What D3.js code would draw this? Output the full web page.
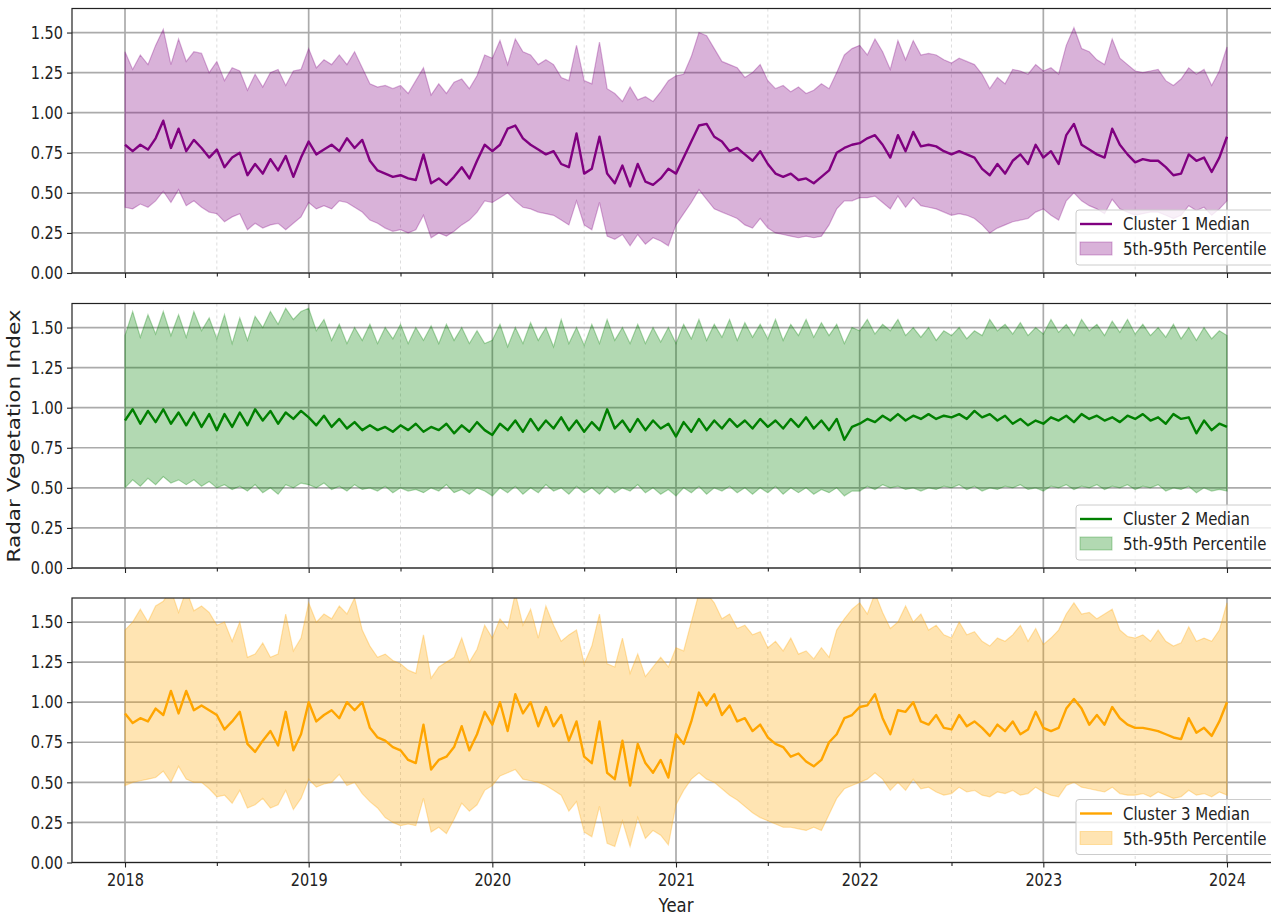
<!DOCTYPE html>
<html><head><meta charset="utf-8">
<script src="https://cdn.jsdelivr.net/npm/d3@7"></script>
<style>
body{margin:0;background:#fff;}
svg{display:block;font-family:"DejaVu Sans",sans-serif;}
.st{transform-box:fill-box;transform-origin:center;transform:scaleY(1.2);}
.stx{transform-box:fill-box;transform-origin:center;transform:scaleX(1.2);}
</style>
</head><body>
<svg id="chart" width="1271" height="916"></svg>
<script>
// ---- sampling ----
const startYear = 2018;
const samplesPerYear = 24;

// ---- ticks ----
const yearTicks = [2018, 2019, 2020, 2021, 2022, 2023, 2024];
const halfYearTicks = [2018.5, 2019.5, 2020.5, 2021.5, 2022.5, 2023.5];
const yTicks = [0, 0.25, 0.5, 0.75, 1.0, 1.25, 1.5];

// ---- labels ----
const clusterLabels = ["Cluster 1 Median", "Cluster 2 Median", "Cluster 3 Median"];
const bandLabel = "5th-95th Percentile";
const xLabel = "Year";
const yLabel = "Radar Vegetation Index";

// ---- Cluster 1 ----
const c1Median = [
0.80,0.76,0.80,0.77,0.84,0.95,0.78,0.90,0.76,0.83,0.78,0.72,0.77,0.66,0.72,0.75,0.61,0.68,0.62,0.71,0.64,0.73,0.60,0.72,
0.82,0.74,0.77,0.80,0.76,0.84,0.78,0.83,0.70,0.64,0.62,0.60,0.61,0.59,0.58,0.74,0.56,0.59,0.55,0.60,0.66,0.59,0.70,0.80,
0.76,0.80,0.90,0.92,0.84,0.80,0.77,0.74,0.76,0.68,0.66,0.87,0.62,0.65,0.85,0.62,0.56,0.67,0.54,0.68,0.57,0.55,0.59,0.65,
0.62,0.72,0.82,0.92,0.93,0.85,0.82,0.76,0.78,0.74,0.70,0.76,0.68,0.62,0.60,0.62,0.58,0.59,0.56,0.60,0.64,0.75,0.78,0.80,
0.81,0.84,0.86,0.80,0.72,0.86,0.76,0.88,0.79,0.80,0.79,0.76,0.74,0.76,0.74,0.72,0.65,0.61,0.68,0.62,0.70,0.74,0.68,0.80,
0.72,0.76,0.68,0.86,0.93,0.80,0.77,0.74,0.72,0.90,0.80,0.74,0.69,0.71,0.70,0.70,0.66,0.61,0.62,0.74,0.70,0.72,0.63,0.72,0.85];
const c1P5 = [
0.41,0.40,0.43,0.41,0.45,0.51,0.44,0.52,0.42,0.45,0.41,0.38,0.37,0.32,0.35,0.37,0.27,0.31,0.28,0.30,0.31,0.27,0.31,0.35,
0.44,0.40,0.42,0.40,0.45,0.44,0.41,0.38,0.33,0.31,0.28,0.26,0.27,0.25,0.27,0.36,0.22,0.25,0.23,0.26,0.30,0.33,0.38,0.45,
0.44,0.47,0.50,0.45,0.41,0.40,0.38,0.37,0.36,0.33,0.30,0.45,0.30,0.27,0.44,0.23,0.21,0.24,0.17,0.24,0.18,0.22,0.20,0.17,
0.30,0.37,0.44,0.52,0.46,0.40,0.38,0.36,0.34,0.30,0.28,0.34,0.28,0.25,0.24,0.23,0.22,0.23,0.22,0.23,0.30,0.40,0.45,0.45,
0.47,0.47,0.48,0.44,0.40,0.48,0.41,0.47,0.42,0.41,0.40,0.38,0.36,0.37,0.36,0.34,0.30,0.25,0.28,0.30,0.32,0.33,0.34,0.38,
0.40,0.36,0.33,0.45,0.50,0.45,0.42,0.40,0.37,0.46,0.40,0.38,0.36,0.37,0.38,0.38,0.36,0.34,0.36,0.42,0.39,0.41,0.36,0.40,0.45];
const c1P95 = [
1.38,1.27,1.36,1.30,1.42,1.52,1.30,1.46,1.32,1.38,1.37,1.25,1.32,1.20,1.28,1.26,1.14,1.24,1.16,1.25,1.27,1.17,1.26,1.27,
1.40,1.28,1.33,1.30,1.36,1.30,1.38,1.28,1.18,1.16,1.17,1.15,1.17,1.12,1.20,1.28,1.11,1.18,1.12,1.19,1.21,1.15,1.23,1.36,
1.34,1.45,1.30,1.46,1.38,1.36,1.30,1.33,1.30,1.22,1.20,1.42,1.20,1.18,1.44,1.15,1.12,1.07,1.16,1.08,1.10,1.07,1.13,1.20,
1.23,1.24,1.35,1.50,1.48,1.40,1.32,1.30,1.28,1.22,1.25,1.30,1.20,1.15,1.17,1.13,1.16,1.12,1.14,1.18,1.15,1.25,1.36,1.40,
1.42,1.36,1.46,1.38,1.27,1.45,1.33,1.45,1.36,1.37,1.36,1.33,1.31,1.34,1.32,1.30,1.24,1.15,1.22,1.18,1.27,1.26,1.24,1.30,
1.26,1.28,1.24,1.42,1.53,1.40,1.38,1.33,1.30,1.46,1.34,1.30,1.26,1.25,1.26,1.27,1.20,1.17,1.21,1.28,1.24,1.27,1.17,1.26,1.41];

// ---- Cluster 2 ----
const c2Median = [
0.92,0.99,0.90,0.98,0.91,0.99,0.90,0.97,0.89,0.97,0.88,0.96,0.86,0.96,0.88,0.97,0.89,0.99,0.92,0.98,0.90,0.97,0.93,0.98,
0.94,0.89,0.95,0.88,0.93,0.87,0.91,0.86,0.89,0.86,0.88,0.85,0.89,0.86,0.90,0.85,0.88,0.86,0.90,0.84,0.89,0.85,0.91,0.86,
0.83,0.90,0.86,0.92,0.85,0.93,0.86,0.92,0.87,0.94,0.86,0.92,0.85,0.91,0.86,0.99,0.87,0.92,0.85,0.93,0.86,0.92,0.87,0.90,
0.82,0.91,0.85,0.93,0.86,0.92,0.87,0.93,0.88,0.92,0.87,0.93,0.88,0.92,0.87,0.93,0.88,0.94,0.87,0.92,0.86,0.93,0.80,0.88,
0.90,0.93,0.91,0.95,0.92,0.96,0.92,0.95,0.93,0.96,0.93,0.95,0.94,0.96,0.93,0.98,0.94,0.96,0.92,0.95,0.90,0.93,0.89,0.92,
0.90,0.94,0.92,0.95,0.91,0.96,0.93,0.95,0.92,0.94,0.91,0.95,0.93,0.96,0.92,0.94,0.90,0.96,0.93,0.94,0.84,0.92,0.86,0.90,0.88];
const c2P5 = [
0.50,0.55,0.51,0.56,0.52,0.57,0.53,0.55,0.52,0.55,0.51,0.54,0.50,0.52,0.49,0.51,0.48,0.52,0.47,0.50,0.46,0.52,0.50,0.53,
0.52,0.50,0.53,0.49,0.51,0.48,0.52,0.49,0.50,0.48,0.51,0.47,0.50,0.48,0.49,0.47,0.50,0.48,0.52,0.47,0.49,0.46,0.50,0.48,
0.45,0.50,0.47,0.51,0.46,0.50,0.47,0.52,0.48,0.50,0.46,0.51,0.47,0.50,0.46,0.51,0.47,0.50,0.48,0.52,0.47,0.50,0.46,0.49,
0.45,0.50,0.47,0.51,0.46,0.50,0.48,0.51,0.47,0.50,0.46,0.50,0.47,0.51,0.46,0.50,0.47,0.50,0.46,0.49,0.47,0.50,0.45,0.48,
0.48,0.51,0.49,0.52,0.50,0.51,0.49,0.50,0.48,0.50,0.49,0.51,0.50,0.52,0.49,0.51,0.48,0.50,0.49,0.51,0.50,0.52,0.49,0.50,
0.48,0.51,0.50,0.52,0.49,0.51,0.50,0.52,0.49,0.51,0.50,0.52,0.49,0.51,0.50,0.52,0.48,0.50,0.49,0.51,0.47,0.50,0.48,0.49,0.48];
const c2P95 = [
1.45,1.60,1.44,1.58,1.46,1.60,1.45,1.58,1.44,1.60,1.48,1.56,1.43,1.58,1.40,1.56,1.42,1.57,1.50,1.60,1.52,1.62,1.55,1.60,
1.62,1.48,1.55,1.42,1.52,1.40,1.50,1.42,1.52,1.40,1.50,1.43,1.52,1.40,1.50,1.42,1.51,1.40,1.52,1.42,1.50,1.40,1.48,1.40,
1.42,1.52,1.38,1.50,1.40,1.53,1.42,1.50,1.38,1.55,1.40,1.50,1.39,1.52,1.40,1.55,1.42,1.50,1.40,1.52,1.40,1.50,1.41,1.50,
1.40,1.52,1.43,1.55,1.42,1.52,1.44,1.55,1.42,1.53,1.44,1.52,1.43,1.55,1.42,1.52,1.45,1.55,1.44,1.53,1.45,1.52,1.40,1.50,
1.48,1.55,1.46,1.52,1.48,1.55,1.45,1.50,1.44,1.50,1.42,1.48,1.45,1.50,1.43,1.48,1.45,1.55,1.48,1.52,1.46,1.53,1.45,1.50,
1.46,1.55,1.47,1.52,1.45,1.55,1.48,1.52,1.45,1.54,1.47,1.55,1.46,1.52,1.45,1.50,1.44,1.52,1.43,1.50,1.42,1.50,1.43,1.48,1.45];

// ---- Cluster 3 ----
const c3Median = [
0.93,0.87,0.90,0.88,0.96,0.92,1.07,0.93,1.07,0.95,0.98,0.95,0.92,0.83,0.88,0.94,0.74,0.69,0.76,0.82,0.73,0.94,0.70,0.80,
1.00,0.88,0.92,0.95,0.90,1.00,0.95,1.00,0.84,0.78,0.76,0.72,0.70,0.64,0.62,0.86,0.58,0.64,0.66,0.72,0.85,0.70,0.80,0.94,
0.86,1.00,0.82,1.05,0.93,1.00,0.85,0.97,0.85,0.92,0.76,0.88,0.66,0.62,0.88,0.56,0.52,0.76,0.48,0.74,0.62,0.56,0.64,0.53,
0.80,0.74,0.88,1.06,0.98,1.05,0.92,0.98,0.88,0.90,0.82,0.86,0.78,0.74,0.72,0.66,0.68,0.63,0.60,0.64,0.75,0.80,0.90,0.92,
0.97,0.98,1.05,0.90,0.80,0.95,0.94,1.00,0.88,0.86,0.92,0.84,0.83,0.92,0.85,0.88,0.84,0.79,0.86,0.82,0.88,0.80,0.83,0.94,
0.84,0.82,0.84,0.96,1.02,0.96,0.86,0.92,0.86,0.97,0.90,0.86,0.84,0.84,0.83,0.82,0.80,0.78,0.77,0.90,0.81,0.84,0.79,0.88,1.00];
const c3P5 = [
0.48,0.50,0.51,0.52,0.53,0.57,0.50,0.60,0.52,0.50,0.50,0.46,0.41,0.42,0.37,0.45,0.34,0.36,0.40,0.34,0.36,0.45,0.33,0.40,
0.52,0.47,0.49,0.50,0.55,0.48,0.50,0.43,0.38,0.34,0.28,0.25,0.23,0.24,0.23,0.40,0.19,0.22,0.18,0.27,0.37,0.32,0.36,0.45,
0.48,0.54,0.56,0.58,0.52,0.51,0.50,0.48,0.45,0.42,0.32,0.38,0.19,0.16,0.35,0.12,0.10,0.26,0.10,0.28,0.15,0.20,0.17,0.11,
0.36,0.45,0.52,0.56,0.52,0.50,0.46,0.42,0.39,0.35,0.31,0.28,0.26,0.24,0.22,0.22,0.21,0.20,0.22,0.20,0.30,0.40,0.46,0.48,
0.50,0.52,0.56,0.52,0.45,0.50,0.45,0.52,0.46,0.47,0.44,0.42,0.43,0.47,0.44,0.45,0.42,0.41,0.44,0.43,0.45,0.42,0.43,0.47,
0.44,0.42,0.41,0.48,0.50,0.47,0.46,0.45,0.44,0.47,0.43,0.42,0.42,0.43,0.41,0.44,0.42,0.40,0.41,0.45,0.42,0.43,0.41,0.44,0.42];
const c3P95 = [
1.45,1.50,1.58,1.50,1.60,1.63,1.70,1.56,1.70,1.57,1.60,1.56,1.48,1.50,1.38,1.50,1.28,1.30,1.37,1.28,1.30,1.55,1.32,1.40,
1.62,1.50,1.55,1.52,1.60,1.55,1.65,1.45,1.35,1.28,1.30,1.26,1.24,1.20,1.18,1.42,1.15,1.22,1.25,1.28,1.40,1.25,1.33,1.48,
1.40,1.52,1.46,1.68,1.48,1.58,1.40,1.60,1.48,1.38,1.42,1.45,1.24,1.35,1.55,1.24,1.22,1.40,1.18,1.30,1.16,1.22,1.28,1.22,
1.34,1.32,1.50,1.68,1.68,1.62,1.52,1.55,1.46,1.48,1.42,1.44,1.34,1.38,1.32,1.40,1.30,1.32,1.27,1.34,1.28,1.45,1.52,1.58,
1.62,1.55,1.68,1.56,1.46,1.50,1.60,1.50,1.55,1.45,1.48,1.42,1.40,1.50,1.42,1.44,1.38,1.35,1.40,1.38,1.42,1.48,1.38,1.46,
1.36,1.40,1.45,1.55,1.62,1.55,1.56,1.52,1.55,1.58,1.45,1.41,1.40,1.42,1.38,1.45,1.38,1.35,1.37,1.47,1.38,1.40,1.38,1.45,1.62];

// ---- panel assembly ----
const panels = [
  {median: c1Median, lo: c1P5, hi: c1P95, color: "#800080", label: clusterLabels[0], top: 8.5, bottom: 273},
  {median: c2Median, lo: c2P5, hi: c2P95, color: "#008000", label: clusterLabels[1], top: 303.5, bottom: 568},
  {median: c3Median, lo: c3P5, hi: c3P95, color: "#ffa500", label: clusterLabels[2], top: 598, bottom: 862.5}
];

const svg = d3.select("#chart");
const left = 72, right = 1280;
const x = d3.scaleLinear().domain([2017.7114, 2024.2886]).range([left, right]);
const defs = svg.append("defs");

panels.forEach((p, k) => {
  const y = d3.scaleLinear().domain([0, 1.65]).range([p.bottom, p.top]);
  const g = svg.append("g");
  const clipId = "clip" + k;
  defs.append("clipPath").attr("id", clipId).append("rect")
    .attr("x", left).attr("y", p.top).attr("width", right - left).attr("height", p.bottom - p.top);

  // minor (dashed) grid at half years
  g.append("g").selectAll("line").data(halfYearTicks).join("line")
    .attr("x1", d => x(d)).attr("x2", d => x(d))
    .attr("y1", p.top).attr("y2", p.bottom)
    .attr("stroke", "#d4d4d4").attr("stroke-width", 0.8).attr("stroke-dasharray", "3,3");
  // major grid
  g.append("g").selectAll("line").data(yTicks).join("line")
    .attr("x1", left).attr("x2", right)
    .attr("y1", d => y(d)).attr("y2", d => y(d))
    .attr("stroke", "#ababab").attr("stroke-width", 1.7);
  g.append("g").selectAll("line").data(yearTicks).join("line")
    .attr("x1", d => x(d)).attr("x2", d => x(d))
    .attr("y1", p.top).attr("y2", p.bottom)
    .attr("stroke", "#ababab").attr("stroke-width", 1.7);

  const rows = p.median.map((m, i) => ({t: startYear + i / samplesPerYear, m: m, lo: p.lo[i], hi: p.hi[i]}));
  const plot = g.append("g").attr("clip-path", `url(#${clipId})`);
  const area = d3.area().x(d => x(d.t)).y0(d => y(d.lo)).y1(d => y(d.hi));
  const line = d3.line().x(d => x(d.t)).y(d => y(d.m));
  plot.append("path").datum(rows).attr("d", area)
    .attr("fill", p.color).attr("fill-opacity", 0.3)
    .attr("stroke", p.color).attr("stroke-opacity", 0.3).attr("stroke-width", 1.2);
  plot.append("path").datum(rows).attr("d", line)
    .attr("fill", "none").attr("stroke", p.color).attr("stroke-width", 2.4)
    .attr("stroke-linejoin", "round");

  // axes
  const yAxis = d3.axisLeft(y).tickValues(yTicks).tickFormat(d3.format(".2f")).tickSize(5).tickPadding(4);
  const ya = g.append("g").attr("transform", `translate(${left},0)`).call(yAxis);
  const xAxis = d3.axisBottom(x).tickValues(yearTicks)
    .tickFormat(k === 2 ? d3.format("d") : () => "").tickSize(5).tickPadding(7);
  const xa = g.append("g").attr("transform", `translate(0,${p.bottom})`).call(xAxis);
  const xm = g.append("g").attr("transform", `translate(0,${p.bottom})`)
    .call(d3.axisBottom(x).tickValues(halfYearTicks).tickFormat(() => "").tickSize(3.5));
  [ya, xa, xm].forEach(a => {
    a.select(".domain").remove();
    a.selectAll("line").attr("stroke", "#222").attr("stroke-width", 1.1);
    a.selectAll("text").attr("fill", "#222").classed("st", true)
      .style("font-size", "14.5px").style("font-family", '"DejaVu Sans", sans-serif');
  });

  // spines
  g.append("rect").attr("x", left).attr("y", p.top).attr("width", right - left).attr("height", p.bottom - p.top)
    .attr("fill", "none").attr("stroke", "#222").attr("stroke-width", 1.2);

  // legend
  const lg = g.append("g").attr("transform", `translate(1076,${p.bottom - 63})`);
  lg.append("rect").attr("width", 210).attr("height", 55).attr("rx", 3)
    .attr("fill", "#fff").attr("fill-opacity", 0.8).attr("stroke", "#cccccc").attr("stroke-width", 1);
  lg.append("line").attr("x1", 4).attr("x2", 36).attr("y1", 14).attr("y2", 14)
    .attr("stroke", p.color).attr("stroke-width", 2.4);
  lg.append("text").attr("x", 47).attr("y", 14).attr("dy", "0.35em").classed("st", true)
    .attr("fill", "#222").style("font-size", "15px").text(p.label);
  lg.append("rect").attr("x", 4).attr("y", 32).attr("width", 32).attr("height", 13)
    .attr("fill", p.color).attr("fill-opacity", 0.3).attr("stroke", p.color).attr("stroke-opacity", 0.3);
  lg.append("text").attr("x", 47).attr("y", 39).attr("dy", "0.35em").classed("st", true)
    .attr("fill", "#222").style("font-size", "15px").text(bandLabel);
});

// axis labels
svg.append("text").attr("x", (left + right) / 2).attr("y", 911).attr("text-anchor", "middle").classed("st", true)
  .attr("fill", "#222").style("font-size", "16.5px").text(xLabel);
svg.append("g").attr("transform", "translate(20,436) rotate(-90)")
  .append("text").attr("text-anchor", "middle").classed("stx", true)
  .attr("fill", "#222").style("font-size", "18px").text(yLabel);
</script>
</body></html>
